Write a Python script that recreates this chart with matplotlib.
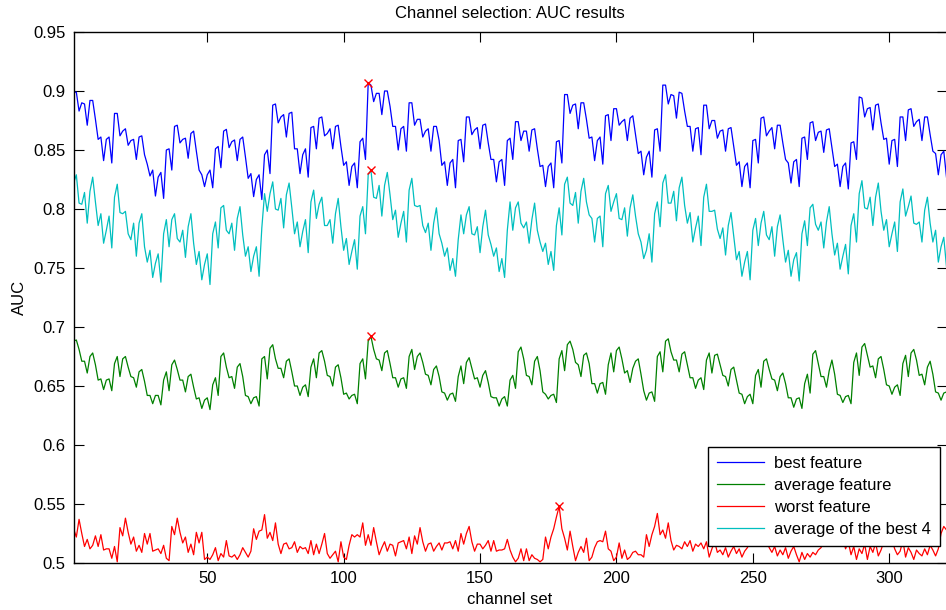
import matplotlib
matplotlib.use("Agg")
import matplotlib.pyplot as plt
import numpy as np

best = [
0.899,0.899,0.883,0.890,0.889,0.871,0.892,0.892,0.876,0.859,
0.861,0.841,0.859,0.861,0.839,0.881,0.881,0.862,0.866,0.868,
0.854,0.858,0.859,0.842,0.861,0.862,0.846,0.838,0.828,0.833,
0.811,0.827,0.831,0.809,0.850,0.851,0.833,0.870,0.871,0.856,
0.859,0.860,0.843,0.864,0.866,0.849,0.833,0.829,0.819,0.829,
0.833,0.818,0.851,0.853,0.835,0.866,
0.8675,0.852,0.857,0.8585,0.841,0.859,0.861,0.844,0.826,0.830,
0.8105,0.825,0.829,0.808,0.846,0.850,0.830,0.888,0.889,0.873,
0.878,0.880,0.861,0.881,0.882,0.851,0.851,0.830,0.846,0.851,
0.827,0.869,0.870,0.851,0.877,0.878,0.862,0.864,0.868,0.851,
0.870,0.871,0.853,0.837,0.840,0.820,0.836,0.839,0.818,0.857,
0.860,0.842,0.907,0.905,0.891,0.898,0.898,0.880,0.900,0.900,
0.887,0.870,0.870,0.850,0.868,0.870,0.849,0.890,0.890,0.871,
0.876,0.876,0.861,0.866,0.868,0.849,0.870,0.870,0.858,0.837,
0.840,0.820,0.839,0.842,0.818,0.858,0.859,0.840,0.878,0.878,
0.863,0.867,0.869,0.851,0.871,0.872,0.856,0.842,0.842,0.823,
0.840,0.842,0.820,0.858,0.860,0.842,0.874,0.874,0.858,0.866,
0.866,0.849,0.867,0.868,0.851,0.836,0.837,0.819,0.836,0.839,
0.818,0.857,0.858,0.839,0.897,0.897,0.881,0.888,0.889,0.868,
0.890,0.890,0.876,0.860,0.861,0.841,0.858,0.861,0.838,0.879,
0.880,0.858,0.885,0.885,0.871,0.874,0.876,0.858,0.877,0.879,
0.863,0.847,0.849,
0.829,0.844,0.849,0.827,0.867,0.868,0.849,0.905,0.905,0.889,
0.897,0.896,0.877,0.899,0.898,0.883,0.870,0.870,0.849,0.868,
0.869,0.846,0.888,0.888,0.868,0.875,0.875,0.860,0.866,0.867,
0.849,0.868,0.869,0.853,0.837,0.840,0.819,0.836,0.839,0.818,
0.858,0.859,0.839,0.877,0.878,0.862,0.866,0.869,0.851,0.871,
0.871,0.856,0.842,0.839,0.822,0.840,0.842,0.819,0.860,0.861,
0.842,0.873,0.874,0.858,0.865,0.866,0.848,0.867,0.868,0.852,
0.836,0.838,0.819,0.836,0.839,0.817,0.856,0.857,0.842,0.895,
0.894,0.878,0.885,0.886,0.867,0.888,0.889,0.873,0.859,0.860,
0.838,0.858,0.859,0.836,0.878,0.878,0.858,0.884,0.885,0.870,
0.874,0.876,0.858,0.878,0.878,0.863,0.849,0.847,0.829,0.846,
0.849,0.827]

average = [
0.688,0.689,0.681,0.671,0.671,0.661,0.675,0.678,0.668,0.655,
0.656,0.647,0.655,0.656,0.646,0.669,0.675,0.658,0.673,0.675,
0.666,0.658,0.657,0.649,0.662,0.664,0.654,0.642,0.642,0.635,
0.642,0.642,0.634,0.655,0.662,0.646,0.668,0.672,0.664,0.655,
0.655,0.645,0.658,0.660,0.649,0.639,0.640,0.631,0.638,0.640,
0.630,0.651,0.657,0.642,0.675,0.678,0.666,0.657,0.658,0.648,
0.666,0.669,0.658,0.642,0.641,0.635,0.640,0.641,0.633,0.673,
0.675,0.656,0.682,0.685,0.673,0.665,0.665,0.657,0.671,0.673,
0.662,0.650,0.650,0.642,0.649,0.651,0.641,0.666,0.673,0.657,
0.678,0.680,0.671,0.659,0.658,0.650,0.666,0.668,0.657,0.643,
0.644,0.639,0.642,0.643,0.635,0.669,
0.673,0.656,0.688,0.692,0.681,0.673,0.672,0.663,0.678,0.680,
0.669,0.657,0.657,0.649,0.656,0.657,0.648,0.675,0.681,0.664,
0.675,0.678,0.670,0.660,0.659,0.651,0.664,0.667,0.658,0.645,
0.644,0.638,0.643,0.644,0.637,0.658,0.667,0.652,0.670,0.674,
0.665,0.656,0.657,0.649,0.659,0.663,0.653,0.641,0.640,0.640,
0.633,0.639,0.641,0.633,0.655,0.659,0.648,0.679,0.683,0.673,
0.659,0.658,0.651,0.671,0.675,0.663,0.645,0.643,0.639,0.642,
0.643,0.636,0.673,0.680,0.663,0.685,0.688,0.681,0.670,0.668,
0.658,0.676,0.678,0.669,0.652,0.652,0.644,0.652,0.653,0.643,
0.668,0.678,0.662,0.680,0.683,0.673,0.661,0.663,0.653,0.665,
0.671,0.673,0.660,0.646,
0.638,0.644,0.645,0.637,0.675,0.679,0.662,0.688,0.690,0.679,
0.672,0.672,0.662,0.677,0.679,0.668,0.657,0.657,0.648,0.655,
0.657,0.647,0.672,0.678,0.661,0.676,0.677,0.668,0.659,0.658,
0.650,0.664,0.666,0.655,0.644,0.643,0.635,0.641,0.643,0.635,
0.659,0.664,0.649,0.671,0.673,0.664,0.656,0.655,0.646,0.658,
0.661,0.652,0.640,0.640,0.632,0.639,0.640,0.631,0.652,0.660,
0.644,0.677,0.680,0.669,0.658,0.658,0.649,0.663,0.672,0.660,
0.643,0.642,0.636,0.641,0.642,0.635,0.670,0.678,0.659,0.683,
0.686,0.676,0.666,0.667,0.657,0.673,0.675,0.664,0.651,0.650,
0.643,0.649,0.651,0.642,0.669,0.676,0.658,0.678,0.681,0.672,
0.659,0.660,0.651,0.666,0.671,0.660,0.645,0.644,0.638,0.644,
0.645]

worst = [
0.529,0.522,0.537,0.525,0.514,0.520,0.512,0.515,0.523,0.514,
0.524,0.511,0.512,0.512,0.504,0.514,0.501,0.530,0.523,0.538,
0.526,0.516,0.522,0.510,0.515,0.509,0.525,0.516,0.525,0.510,
0.511,0.512,0.508,0.515,0.504,0.502,0.531,0.524,0.538,0.526,
0.517,0.522,0.509,0.516,0.507,0.526,0.517,0.526,0.503,0.505,
0.503,0.507,0.513,0.502,0.508,0.505,0.519,0.506,0.505,0.507,
0.503,0.507,0.513,0.509,0.505,0.510,0.529,0.520,0.527,0.528,
0.541,0.521,0.526,0.519,0.534,0.516,0.508,0.516,0.517,0.512,
0.513,0.518,0.509,0.514,0.512,0.513,0.508,0.519,0.507,0.516,
0.508,0.516,0.525,0.508,0.504,0.507,0.510,0.501,0.518,0.505,
0.503,0.515,0.524,0.522,0.524,0.522,
0.534,0.515,0.524,0.515,0.530,0.518,0.507,0.513,0.518,0.510,
0.516,0.515,0.506,0.517,0.518,0.519,0.512,0.522,0.508,0.523,
0.516,0.530,0.518,0.510,0.516,0.517,0.510,0.514,0.517,0.511,
0.517,0.517,0.518,0.512,0.519,0.510,0.525,0.516,0.525,0.531,
0.518,0.510,0.516,0.516,0.512,0.515,0.519,0.510,0.519,0.510,
0.511,0.511,0.512,0.520,0.511,0.505,0.501,0.504,0.512,0.502,
0.512,0.502,0.507,0.504,0.503,0.501,0.503,0.522,0.512,0.522,
0.529,0.539,
0.548,
0.529,0.521,0.511,0.527,0.514,0.502,0.509,0.514,0.509,0.521,
0.502,0.505,0.513,0.518,0.519,0.518,0.527,0.512,0.510,0.502,
0.505,0.517,0.504,0.511,0.503,0.505,0.509,0.510,0.507,
0.507,0.505,0.524,0.514,0.524,0.531,0.542,0.524,0.528,0.521,
0.534,0.519,0.511,0.515,0.514,0.512,0.518,0.514,0.519,0.510,
0.516,0.514,0.517,0.512,0.518,0.505,
0.512,0.518,0.509,0.511,0.507,0.513,0.505,0.510,0.514,0.508,
0.512,0.505,0.510,0.513,0.518,0.522,0.526,0.519,0.524,0.517,
0.520,0.513,0.509,0.514,0.506,0.511,0.507,0.513,0.504,0.510,
0.514,0.507,0.501,0.509,0.503,0.508,0.505,0.509,0.507,0.511,
0.513,0.518,0.522,0.528,0.534,0.525,0.520,0.516,0.521,0.512,
0.518,0.507,0.514,0.503,0.512,0.508,0.516,0.503,0.514,0.509,
0.517,0.506,0.511,0.518,0.522,0.515,0.520,0.512,0.507,0.510,
0.519,0.505,0.513,0.509,0.503,0.511,0.508,0.506,0.512,0.507,
0.515,0.511,0.506,0.512,0.525,0.531,0.528]

best4 = [
0.822,0.829,0.805,0.804,0.814,0.788,0.815,0.827,0.806,0.786,
0.796,0.771,0.782,0.794,0.767,0.810,0.821,0.797,0.796,0.798,
0.779,0.774,0.788,0.760,0.788,0.796,0.768,0.755,0.765,0.742,
0.754,0.762,0.738,0.779,0.791,0.768,0.791,0.796,0.775,0.772,
0.782,0.759,0.785,0.796,0.771,0.753,0.764,0.740,0.753,0.762,
0.736,0.779,0.789,0.767,0.801,0.803,0.782,0.779,0.788,0.765,
0.792,0.802,0.778,0.760,0.768,0.747,0.760,0.768,0.743,0.784,
0.813,0.798,0.813,0.823,0.800,0.799,0.809,0.784,0.812,0.822,
0.801,0.779,0.789,0.768,0.781,0.791,0.763,0.806,0.816,0.792,
0.804,0.810,0.786,0.786,0.791,0.771,0.796,0.809,0.785,0.765,
0.775,0.753,0.764,0.774,0.749,0.794,
0.802,0.779,0.829,0.833,0.810,0.809,0.820,0.794,0.820,0.831,
0.812,0.791,0.799,0.776,0.788,0.798,0.772,0.816,0.826,0.803,
0.802,0.803,0.786,0.780,0.788,0.765,0.788,0.801,0.779,0.771,
0.760,0.767,0.748,0.758,0.743,0.774,0.795,0.779,0.795,0.802,
0.779,0.778,0.785,0.763,0.785,0.799,0.778,0.770,0.760,0.767,
0.747,0.758,0.742,0.782,0.806,0.782,0.801,0.806,0.788,0.784,
0.789,0.771,0.791,0.805,0.782,0.772,0.764,0.771,0.753,0.764,
0.748,0.786,0.801,0.778,0.821,0.827,0.805,0.803,0.814,0.788,
0.815,0.826,0.806,0.795,0.792,0.772,0.792,0.794,0.768,0.813,
0.820,0.798,0.806,0.813,0.792,0.791,0.801,0.777,0.801,0.812,
0.794,0.779,0.772,
0.758,0.765,0.779,0.755,0.796,0.806,0.785,0.822,0.829,0.805,
0.805,0.815,0.790,0.818,0.827,0.803,0.788,0.797,0.772,0.784,
0.794,0.769,0.810,0.821,0.798,0.798,0.799,0.783,0.775,0.784,
0.761,0.786,0.797,0.777,0.757,0.764,0.743,0.755,0.764,0.740,
0.782,0.792,0.769,0.788,0.798,0.778,0.774,0.785,0.760,0.785,
0.795,0.774,0.755,0.765,0.743,0.757,0.763,0.739,0.779,0.790,
0.769,0.801,0.804,0.787,0.782,0.789,0.767,0.789,0.802,0.779,
0.761,0.771,0.749,0.760,0.770,0.745,0.786,0.796,0.772,0.813,
0.824,0.801,0.800,0.810,0.786,0.810,0.822,0.798,0.782,0.791,
0.768,0.779,0.789,0.764,0.806,0.817,0.794,0.802,0.811,0.788,
0.787,0.789,0.772,0.799,0.810,0.788,0.772,0.782,0.755,0.768,
0.776,0.751]

labels = ["best feature", "average feature", "worst feature", "average of the best 4"]
colors = ["#0000ff", "#008000", "#ff0000", "#00bfbf"]
yticks = [0.5, 0.55, 0.6, 0.65, 0.7, 0.75, 0.8, 0.85, 0.9, 0.95]
yticklabels = ["0.5", "0.55", "0.6", "0.65", "0.7", "0.75", "0.8", "0.85", "0.9", "0.95"]
xticks = [50, 100, 150, 200, 250, 300]

plt.rcParams['font.family'] = ['Liberation Sans', 'DejaVu Sans']
plt.rcParams['font.size'] = 12

fig = plt.figure(figsize=(9.46, 6.10), dpi=100)
ax_w = (946.5 - 73.6) / 946
ax = fig.add_axes([73.6/946, 47/610, ax_w, (563-32)/610])

series = [best, average, worst, best4]
for s, lab, c in zip(series, labels, colors):
    x = np.arange(1, len(s) + 1)
    ax.plot(x, s, color=c, lw=0.9, label=lab)

for s in series:
    arr = np.array(s)
    i = int(np.argmax(arr))
    ax.plot(i + 1, arr[i], 'x', color='#ff0000', ms=6, mew=1.0, zorder=5)

ax.set_xlim(1, 321)
ax.set_ylim(0.5, 0.95)
ax.set_xticks(xticks)
ax.set_yticks(yticks)
ax.set_yticklabels(yticklabels)
ax.tick_params(direction='in', top=True, right=True, length=7, width=0.8,
               labelsize=12, pad=6)
for sp in ax.spines.values():
    sp.set_linewidth(1.0)

ax.set_title("Channel selection: AUC results", fontsize=12, pad=10)
ax.set_xlabel("channel set", fontsize=12, labelpad=4)
ax.set_ylabel("AUC", fontsize=12, labelpad=4)

leg = ax.legend(loc='lower right', fontsize=12, frameon=True, fancybox=False,
                edgecolor='black', framealpha=1.0, borderaxespad=0,
                handlelength=2.8, handletextpad=0.6, labelspacing=0.42,
                borderpad=0.55)
leg.get_frame().set_linewidth(1.0)
leg.set_bbox_to_anchor(((940-73.6)/(946.5-73.6), (563-546)/531), transform=ax.transAxes)

fig.savefig("out.png", dpi=100)
